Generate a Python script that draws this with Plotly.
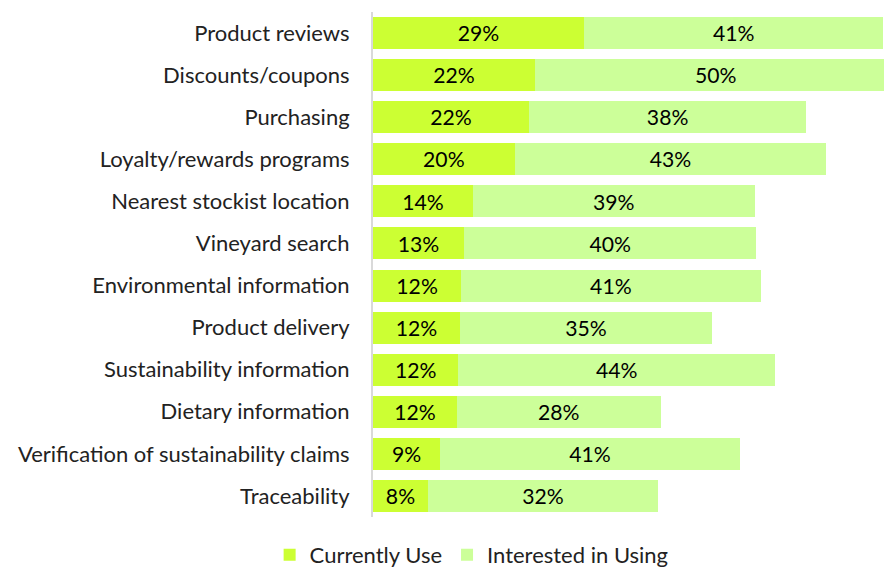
import plotly.graph_objects as go

categories = [
    "Product reviews", "Discounts/coupons", "Purchasing", "Loyalty/rewards programs",
    "Nearest stockist location", "Vineyard search", "Environmental information",
    "Product delivery", "Sustainability information", "Dietary information",
    "Verification of sustainability claims", "Traceability",
]
# values (labels show rounded percentages)
currently_use = [29.2, 22.4, 21.6, 19.6, 13.8, 12.6, 12.2, 12.0, 11.8, 11.6, 9.3, 7.6]
interested = [41.4, 50.0, 38.3, 43.1, 39.0, 40.4, 41.4, 34.9, 43.8, 28.2, 41.4, 31.8]

FONT = "Lato, 'Open Sans', sans-serif"
FS = 22

fig = go.Figure()
fig.add_trace(go.Bar(
    y=categories, x=currently_use, orientation="h", name="Currently Use",
    marker=dict(color="#CCFF33", line=dict(width=0)),
    texttemplate="%{x:.0f}%", textposition="inside", insidetextanchor="middle",
    textfont=dict(color="black", size=FS, family=FONT),
))
fig.add_trace(go.Bar(
    y=categories, x=interested, orientation="h", name="Interested in Using",
    marker=dict(color="#CCFF99", line=dict(width=0)),
    texttemplate="%{x:.0f}%", textposition="inside", insidetextanchor="middle",
    textfont=dict(color="black", size=FS, family=FONT),
))

fig.update_layout(
    barmode="stack",
    bargap=0.24,
    width=885, height=567,
    margin=dict(l=373, r=1, t=12, b=50, autoexpand=False),
    paper_bgcolor="white", plot_bgcolor="white",
    font=dict(family=FONT, size=FS, color="#222222"),
    uniformtext=dict(minsize=10, mode="show"),
    xaxis=dict(range=[0, 70.68], visible=False, fixedrange=True),
    yaxis=dict(
        autorange="reversed", showline=True, linecolor="#D9D9D9", linewidth=2,
        ticks="", showgrid=False, ticklabelstandoff=17, automargin=False,
        tickfont=dict(size=FS, family=FONT, color="#222222"),
    ),
    legend=dict(
        orientation="h",
        x=0.193, xanchor="center", y=-0.075, yanchor="middle",
        font=dict(size=FS, family=FONT, color="#222222"),
        traceorder="normal",
    ),
)

fig.write_html(
    "out.html",
    config={"displayModeBar": False},
    post_script="document.body.style.margin='0';document.body.style.overflow='hidden';",
)
